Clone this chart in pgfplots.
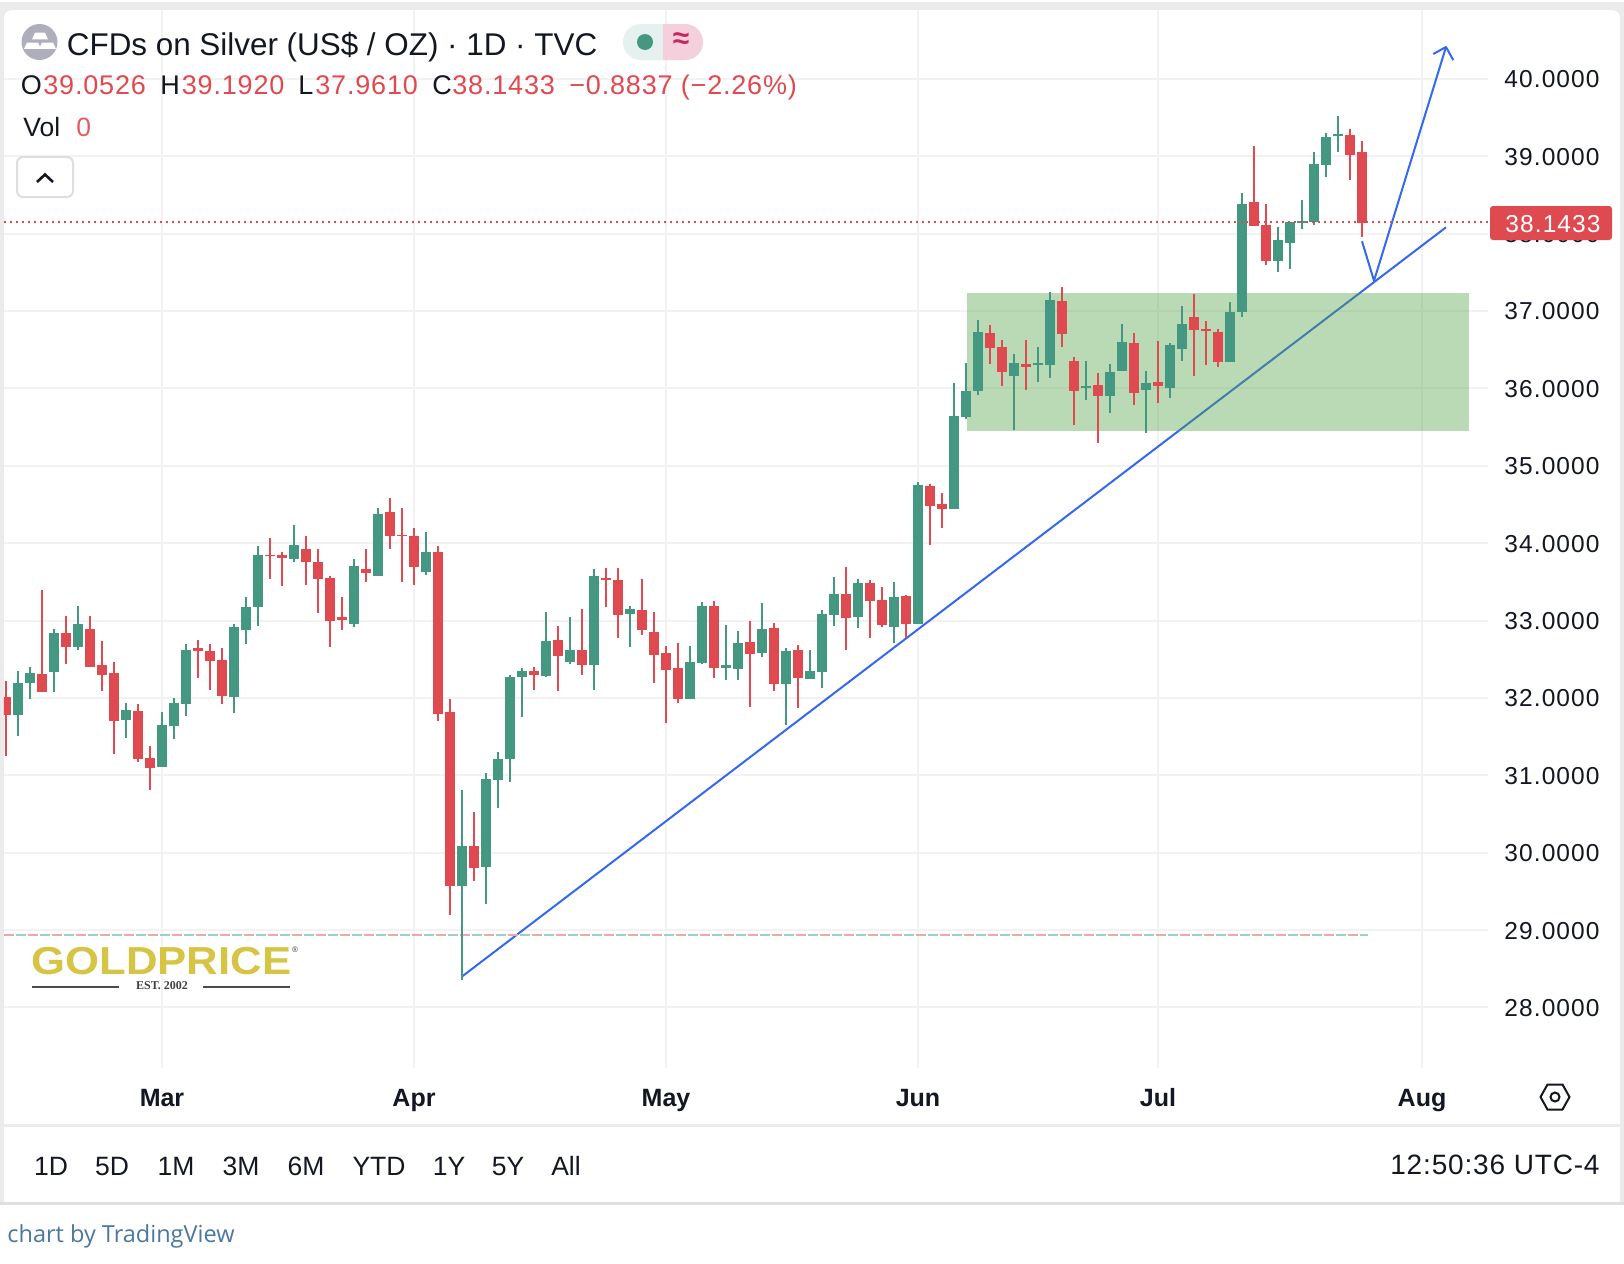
\documentclass[border=0pt]{standalone}
\usepackage{pgfplots}
\usepackage{pgfplotstable}
\usepackage{fontspec}
\pgfplotsset{compat=1.18}
\setmainfont{Liberation Sans}
\newfontfamily\lsa[LetterSpace=4.5]{Liberation Sans}
\newfontfamily\lsb[LetterSpace=3]{Liberation Sans}
\newfontfamily\lss{Liberation Serif}
\newfontfamily\opn{Open Sans}
\newfontfamily\logof[FakeStretch=1.12]{Liberation Sans}
\newcommand\fs[1]{\fontsize{#1}{#1}\selectfont}
\definecolor{cg}{HTML}{449882}
\definecolor{cr}{HTML}{DF4A50}
\definecolor{bl}{HTML}{3468F0}
\definecolor{rc}{HTML}{53A346}
\definecolor{gridc}{HTML}{F2F2F2}
\definecolor{frame}{HTML}{EBEBEB}
\definecolor{ink}{HTML}{131722}
\definecolor{gold}{HTML}{D6C444}
\definecolor{iconc}{HTML}{AEAEBC}
\definecolor{lvlr}{HTML}{E9A9A9}
\definecolor{lvlg}{HTML}{9CD0C6}
\definecolor{pillg}{HTML}{E4F1EE}
\definecolor{pillr}{HTML}{F4CFDC}
\definecolor{approx}{HTML}{C8285F}
% x = candle number, h = high, t = body top, b = body bottom, l = low
\pgfplotstableread{
x h t b l
1 32.35 32.19 31.78 31.51
2 32.40 32.32 32.19 31.99
4 32.89 32.84 32.34 32.08
6 33.19 32.95 32.66 32.62
10 31.94 31.84 31.71 31.48
13 31.82 31.65 31.11 31.11
14 32.00 31.94 31.64 31.47
15 32.69 32.62 31.92 31.77
19 32.96 32.91 32.01 31.81
20 33.31 33.18 32.88 32.70
21 33.96 33.85 33.18 32.93
24 34.23 33.97 33.80 33.75
29 33.79 33.70 32.96 32.92
31 34.46 34.37 33.57 33.57
35 34.14 33.88 33.63 33.59
38 30.81 30.08 29.57 28.35
40 31.03 30.95 29.82 29.34
41 31.30 31.21 30.94 30.58
42 32.30 32.27 31.21 30.91
43 32.39 32.35 32.27 31.75
45 33.11 32.73 32.28 32.27
47 33.04 32.62 32.46 32.44
49 33.66 33.57 32.42 32.10
52 33.19 33.15 33.08 32.66
57 32.67 32.46 31.99 31.99
58 33.24 33.19 32.45 32.44
60 32.94 32.42 32.39 32.23
61 32.86 32.71 32.37 32.23
63 33.23 32.89 32.58 32.53
65 32.64 32.61 32.18 31.65
67 32.62 32.35 32.24 32.24
68 33.14 33.08 32.33 32.13
69 33.56 33.34 33.07 32.93
71 33.54 33.48 33.04 32.90
74 33.50 33.31 32.92 32.71
76 34.79 34.75 32.96 32.96
79 36.07 35.64 34.44 34.44
80 36.33 35.96 35.63 35.60
81 36.88 36.73 35.96 35.91
84 36.44 36.33 36.16 35.46
86 36.53 36.33 36.30 36.08
87 37.25 37.14 36.30 36.13
90 36.35 36.03 36.00 35.85
92 36.31 36.21 35.90 35.68
93 36.83 36.60 36.22 36.22
95 36.22 36.07 35.98 35.42
97 36.58 36.56 36.00 35.87
98 37.06 36.83 36.51 36.35
102 37.11 36.98 36.34 36.34
103 38.52 38.38 36.99 36.92
106 38.08 37.92 37.64 37.50
107 38.15 38.15 37.88 37.54
108 38.43 38.16 38.14 38.06
109 39.05 38.90 38.15 38.11
110 39.30 39.25 38.89 38.73
111 39.52 39.29 39.26 39.05
}\greendata
\pgfplotstableread{
x h t b l
0 32.22 32.01 31.78 31.25
3 33.39 32.31 32.08 32.07
5 33.06 32.84 32.66 32.44
7 33.06 32.89 32.40 32.40
8 32.74 32.43 32.30 32.09
9 32.47 32.32 31.70 31.27
11 31.92 31.83 31.21 31.17
12 31.38 31.22 31.09 30.81
16 32.75 32.64 32.61 32.26
17 32.69 32.61 32.48 32.10
18 32.65 32.49 32.03 31.92
22 34.07 33.85 33.83 33.53
23 33.89 33.84 33.81 33.44
25 34.09 33.93 33.76 33.46
26 33.93 33.75 33.53 33.10
27 33.58 33.55 32.99 32.66
28 33.30 33.04 33.01 32.88
30 33.92 33.66 33.61 33.50
32 34.58 34.40 34.09 33.92
33 34.46 34.11 34.09 33.50
34 34.20 34.09 33.69 33.46
36 33.96 33.88 31.79 31.70
37 31.99 31.82 29.57 29.20
39 30.53 30.08 29.80 29.64
44 32.40 32.35 32.30 32.10
46 32.93 32.75 32.54 32.09
48 33.15 32.62 32.42 32.30
50 33.68 33.55 33.52 33.17
51 33.68 33.52 33.07 32.77
53 33.54 33.14 32.88 32.81
54 33.11 32.85 32.55 32.19
55 32.67 32.58 32.36 31.68
56 32.71 32.39 31.99 31.93
59 33.25 33.19 32.39 32.26
62 32.99 32.72 32.57 31.88
64 32.97 32.90 32.18 32.09
66 32.68 32.62 32.26 31.87
70 33.69 33.34 33.03 32.62
72 33.52 33.48 33.25 32.77
73 33.43 33.27 32.94 32.92
75 33.33 33.32 32.96 32.78
77 34.76 34.74 34.48 33.97
78 34.65 34.50 34.44 34.20
82 36.82 36.71 36.52 36.31
83 36.63 36.54 36.21 36.03
85 36.63 36.31 36.27 35.98
88 37.31 37.13 36.70 36.53
89 36.41 36.35 35.96 35.53
91 36.20 36.04 35.90 35.29
94 36.71 36.58 35.94 35.79
96 36.61 36.08 36.03 35.81
99 37.22 36.92 36.75 36.16
100 36.87 36.76 36.74 36.30
101 36.76 36.73 36.34 36.27
104 39.13 38.41 38.10 38.10
105 38.38 38.11 37.64 37.59
112 39.35 39.27 39.01 38.69
113 39.19 39.05 38.14 37.96
}\reddata
\begin{document}
\begin{tikzpicture}
\useasboundingbox (0,0) rectangle (812pt,-632pt);
\begin{scope}[x=0.5pt,y=-0.5pt]
\fill[white] (0,0) rectangle (1624,1264);
\fill[frame] (0,2) rectangle (1624,1203);
\fill[white,rounded corners=4pt] (4,10) -- (1620,10) -- (1620,1300) -- (4,1300) -- cycle;
\fill[white] (0,1204) rectangle (1624,1264);
\fill[frame] (4,1124) rectangle (1620,1126.5);
\fill[black!13] (0,1202) rectangle (1624,1204.5);
\end{scope}
\begin{axis}[
  at={(2pt,-5pt)},anchor=north west,scale only axis,
  width=742pt,height=529pt,
  xmin=-0.1667,xmax=123.5,ymin=27.218,ymax=40.888,
  axis line style={draw=none},
  major tick length=0pt,
  grid=major,
  grid style={gridc,line width=1pt},
  ytick={28,29,30,31,32,33,34,35,36,37,38,39,40},
  xtick={13,34,55,76,96,118},
  xticklabels={Mar,Apr,May,Jun,Jul,Aug},
  yticklabel pos=right,
  /pgf/number format/assume math mode=true,
  yticklabel style={/pgf/number format/.cd,fixed,fixed zerofill,precision=4,/tikz/.cd,
    font=\lsa\fs{12.25pt},text=ink,anchor=west,inner sep=0pt,xshift=8pt,yshift=-0.25pt},
  xticklabel style={font=\bfseries\fs{12.5pt},text=ink,anchor=base,inner sep=0pt,yshift=-19pt},
]
% trend line and arrow
\addplot[bl,line width=1pt,forget plot] coordinates {(38,28.40)(120,38.08)};
\addplot[bl,line width=1pt,forget plot,line join=round] coordinates {(113,37.90)(114,37.39)(120,40.41)};
\addplot[bl,line width=1pt,forget plot,line join=round] coordinates {(118.94,40.32)(120,40.41)(120.61,40.24)};
% zone
\addplot[fill=rc,fill opacity=0.4,draw=none,forget plot] coordinates {(80.08,35.45)(121.9,35.45)(121.9,37.23)(80.08,37.23)} -- cycle;
% dashed level
\addplot[draw=lvlr,line width=1pt,dash pattern=on 5pt off 7pt,forget plot] coordinates {(-0.1667,28.94)(113.5,28.94)};
\addplot[draw=lvlg,line width=1pt,dash pattern=on 5pt off 7pt,dash phase=6pt,forget plot] coordinates {(-0.1667,28.94)(113.5,28.94)};
% candles
\addplot[draw=none,no markers,forget plot,error bars/.cd,y dir=minus,y explicit,error mark=none,
  error bar style={draw=cg,line width=1pt}]
  table[x=x,y=h,y error minus expr=\thisrow{h}-\thisrow{l}] {\greendata};
\addplot[draw=none,no markers,forget plot,error bars/.cd,y dir=minus,y explicit,error mark=none,
  error bar style={draw=cg,line width=5pt}]
  table[x=x,y=t,y error minus expr=\thisrow{t}-\thisrow{b}] {\greendata};
\addplot[draw=none,no markers,forget plot,error bars/.cd,y dir=minus,y explicit,error mark=none,
  error bar style={draw=cr,line width=1pt}]
  table[x=x,y=h,y error minus expr=\thisrow{h}-\thisrow{l}] {\reddata};
\addplot[draw=none,no markers,forget plot,error bars/.cd,y dir=minus,y explicit,error mark=none,
  error bar style={draw=cr,line width=5pt}]
  table[x=x,y=t,y error minus expr=\thisrow{t}-\thisrow{b}] {\reddata};
% last price
\addplot[cr,line width=1pt,dash pattern=on 1pt off 2pt,forget plot] coordinates {(-0.1667,38.1433)(123.5,38.1433)};
\end{axis}
\begin{scope}[x=0.5pt,y=-0.5pt]
% price badge
\fill[cr,rounded corners=1.5pt] (1490,206) rectangle (1612,240);
\node[anchor=base east,inner sep=0pt,text=white,font=\lsa\fs{12.25pt}] at (1601,232) {38.1433};
% symbol icon
\fill[iconc] (39.5,42) circle (18);
\fill[white] (35,32.7) -- (45,32.7) -- (48,39.3) -- (32,39.3) -- cycle;
\fill[white] (27,42.7) -- (38,42.7) -- (41,48.8) -- (24,48.8) -- cycle;
\fill[white] (42,42.7) -- (53,42.7) -- (56,48.8) -- (39,48.8) -- cycle;
% header
\node[anchor=base west,inner sep=0pt,text=ink,font=\fs{15.7pt}] at (66.5,55) {CFDs on Silver (US\$ / OZ) · 1D · TVC};
\fill[pillg,rounded corners=9pt] (623,24) rectangle (703,60);
\begin{scope}
\clip (663,20) rectangle (710,64);
\fill[pillr,rounded corners=9pt] (623,24) rectangle (703,60);
\end{scope}
\fill[cg] (645,42) circle (8);
\node[inner sep=0pt,text=approx,font=\bfseries\fs{15pt}] at (681,41) {≈};
\node[anchor=base west,inner sep=0pt,text=ink,font=\fs{13.5pt}] at (20.5,94.7) {O};
\node[anchor=base west,inner sep=0pt,text=cr,font=\lsb\fs{13.5pt}] at (43,94.7) {39.0526};
\node[anchor=base west,inner sep=0pt,text=ink,font=\fs{13.5pt}] at (160,94.7) {H};
\node[anchor=base west,inner sep=0pt,text=cr,font=\lsb\fs{13.5pt}] at (181.5,94.7) {39.1920};
\node[anchor=base west,inner sep=0pt,text=ink,font=\fs{13.5pt}] at (298,94.7) {L};
\node[anchor=base west,inner sep=0pt,text=cr,font=\lsb\fs{13.5pt}] at (315,94.7) {37.9610};
\node[anchor=base west,inner sep=0pt,text=ink,font=\fs{13.5pt}] at (432,94.7) {C};
\node[anchor=base west,inner sep=0pt,text=cr,font=\lsb\fs{13.5pt}] at (452,94.7) {38.1433};
\node[anchor=base west,inner sep=0pt,text=cr,font=\lsb\fs{13.5pt}] at (569,94.7) {−0.8837 (−2.26\%)};
\node[anchor=base west,inner sep=0pt,text=ink,font=\fs{13.25pt}] at (23,136) {Vol};
\node[anchor=base west,inner sep=0pt,text=cr!90!white,font=\lsb\fs{13.25pt}] at (76,136) {0};
% collapse button
\draw[black!13,fill=white,line width=1pt,rounded corners=3pt] (17,157) rectangle (73,197);
\draw[ink,line width=1.3pt] (37,182) -- (45,174.5) -- (53,182);
% logo
\node[inner sep=0pt,text=gold,font=\logof\bfseries\fs{19.5pt}] at (161.5,961) {GOLDPRICE};
\node[inner sep=0pt,text=black!75,font=\fs{4pt}] at (295,950) {®};
\node[inner sep=0pt,text=black!75,font=\lss\bfseries\fs{6pt}] at (162,986) {EST. 2002};
\draw[black!70,line width=0.8pt] (32,987) -- (119,987) (203,987) -- (290,987);
% settings hexagon
\draw[ink,line width=1pt] (1540.5,1097) -- (1547.5,1084.5) -- (1562.5,1084.5) -- (1569.5,1097) -- (1562.5,1109.5) -- (1547.5,1109.5) -- cycle;
\draw[ink,line width=1pt] (1555,1097) circle (4.5);
% range buttons
\foreach \t/\c in {1D/51,5D/112,1M/176,3M/241,6M/306,YTD/379,1Y/449,5Y/508,All/566}
  \node[anchor=base,inner sep=0pt,text=ink,font=\fs{13.25pt}] at (\c,1175) {\t};
\node[anchor=base east,inner sep=0pt,text=ink,font=\lsb\fs{14pt}] at (1600,1174) {12:50:36 UTC-4};
\node[anchor=base west,inner sep=0pt,text={rgb,255:red,74;green,120;blue,160},font=\opn\fs{11.75pt}] at (7,1242) {chart by TradingView};
\end{scope}
\end{tikzpicture}
\end{document}
